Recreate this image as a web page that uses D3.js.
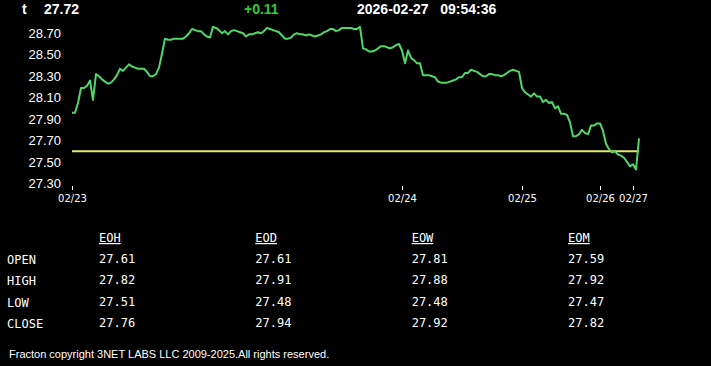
<!DOCTYPE html>
<html><head><meta charset="utf-8">
<script src="https://cdn.jsdelivr.net/npm/d3@7"></script>
<style>
html,body{margin:0;padding:0;background:#000;}
svg{display:block;}
</style></head>
<body>
<svg id="c" width="711" height="366"></svg>
<script>
// ---------- data ----------
const ticker = "t";
const lastPrice = "27.72";
const change = "+0.11";
const dateText = "2026-02-27";
const timeText = "09:54:36";
const openLevel = 27.60;

const prices = [
27.96,27.96,28.05,28.19,28.19,28.21,28.26,28.08,28.32,28.30,
28.27,28.25,28.23,28.24,28.27,28.31,28.37,28.35,28.38,28.41,
28.39,28.38,28.37,28.37,28.37,28.34,28.30,28.30,28.32,28.38,
28.51,28.65,28.64,28.64,28.65,28.65,28.65,28.65,28.67,28.70,
28.74,28.73,28.72,28.72,28.69,28.67,28.66,28.76,28.75,28.73,
28.70,28.72,28.69,28.72,28.73,28.72,28.71,28.70,28.67,28.69,
28.69,28.70,28.71,28.70,28.72,28.75,28.74,28.73,28.72,28.71,
28.68,28.65,28.65,28.66,28.69,28.70,28.69,28.69,28.68,28.69,
28.68,28.67,28.68,28.69,28.71,28.72,28.74,28.74,28.72,28.73,
28.75,28.75,28.75,28.75,28.74,28.74,28.76,28.56,28.55,28.53,
28.53,28.54,28.56,28.58,28.58,28.57,28.56,28.57,28.59,28.60,
28.54,28.42,28.54,28.47,28.45,28.42,28.42,28.31,28.31,28.31,
28.30,28.29,28.25,28.24,28.24,28.24,28.25,28.26,28.27,28.29,
28.29,28.33,28.33,28.36,28.35,28.34,28.32,28.30,28.30,28.32,
28.32,28.31,28.31,28.30,28.31,28.33,28.35,28.36,28.35,28.34,
28.19,28.15,28.13,28.11,28.14,28.11,28.11,28.06,28.08,28.05,
28.06,28.00,28.02,27.95,27.95,27.94,27.87,27.74,27.74,27.76,
27.80,27.77,27.76,27.84,27.84,27.86,27.86,27.79,27.67,27.62,
27.59,27.60,27.57,27.56,27.54,27.50,27.46,27.48,27.43,27.72
];

const yTicks = [27.30,27.50,27.70,27.90,28.10,28.30,28.50,28.70];
const dayLabels = ["02/23","02/24","02/25","02/26","02/27"];
const dayStartIndex = [0,110,150,176,187];

const tableCols = ["EOH","EOD","EOW","EOM"];
const rowLabels = ["OPEN","HIGH","LOW","CLOSE"];
const eohValues = ["27.61","27.82","27.51","27.76"];
const eodValues = ["27.61","27.91","27.48","27.94"];
const eowValues = ["27.81","27.88","27.48","27.92"];
const eomValues = ["27.59","27.92","27.47","27.82"];
const footerText = "Fracton copyright 3NET LABS LLC 2009-2025.All rights reserved.";

// ---------- drawing ----------
const svg = d3.select("#c");
svg.append("rect").attr("width",711).attr("height",366).attr("fill","#000");

const x = d3.scaleLinear().domain([0, prices.length-1]).range([72, 639]);
const y = d3.scaleLinear().domain([27.30, 28.70]).range([183.5, 33.3]);

// header
const hdr = svg.append("g").attr("font-family","Arial, 'Liberation Sans', sans-serif")
  .attr("font-weight","bold").attr("font-size",14);
hdr.append("text").attr("x",22).attr("y",14).attr("fill","#fff").text(ticker);
hdr.append("text").attr("x",44).attr("y",14).attr("fill","#fff").text(lastPrice);
hdr.append("text").attr("x",244).attr("y",14).attr("fill","#33cc33").text(change);
hdr.append("text").attr("x",357).attr("y",14).attr("fill","#fff").attr("xml:space","preserve")
  .text(dateText + "   " + timeText);

// y axis
const yAxis = d3.axisLeft(y).tickValues(yTicks).tickFormat(d3.format(".2f")).tickSize(0).tickPadding(0);
const gy = svg.append("g").attr("transform","translate(61,0)").call(yAxis);
gy.select(".domain").remove();
gy.selectAll("text").attr("fill","#fff").attr("font-size",13)
  .attr("font-family","Arial, 'Liberation Sans', sans-serif");

// x axis
const xAxis = d3.axisBottom(x).tickValues(dayStartIndex)
  .tickFormat((d,i)=>dayLabels[i]).tickSize(4).tickPadding(5);
const gx = svg.append("g").attr("transform","translate(0,186)").call(xAxis);
gx.select(".domain").remove();
gx.selectAll("line").attr("stroke","#fff");
gx.selectAll("text").attr("fill","#fff").attr("font-size",10)
  .attr("font-family","Tahoma, 'DejaVu Sans', Arial, sans-serif");

// open level line
svg.append("line")
  .attr("x1", x(0)).attr("x2", x(prices.length-1))
  .attr("y1", y(openLevel)).attr("y2", y(openLevel))
  .attr("stroke","#e2e86c").attr("stroke-width",2);

// price line
const line = d3.line().x((d,i)=>x(i)).y(d=>y(d));
svg.append("path").datum(prices).attr("d",line)
  .attr("fill","none").attr("stroke","#4fd768").attr("stroke-width",2)
  .attr("stroke-linejoin","round");

// table
const colX = d3.scalePoint().domain(tableCols).range([99, 568]);
const rowY = d3.scalePoint().domain(rowLabels).range([264, 328]);
const tbl = svg.append("g").attr("font-family","Consolas, 'DejaVu Sans Mono', 'Liberation Mono', monospace")
  .attr("font-size",12).attr("fill","#fff");
tbl.selectAll("text.h").data(tableCols).enter().append("text")
  .attr("x",d=>colX(d)).attr("y",242).attr("text-decoration","underline").text(d=>d);
tbl.selectAll("text.r").data(rowLabels).enter().append("text")
  .attr("x",7).attr("y",d=>rowY(d)).text(d=>d);
const colVals = [eohValues,eodValues,eowValues,eomValues];
colVals.forEach((vals,ci)=>{
  tbl.selectAll(null).data(vals).enter().append("text")
    .attr("x",colX(tableCols[ci])).attr("y",(d,ri)=>rowY(rowLabels[ri])-1).text(d=>d);
});

// footer
svg.append("text").attr("x",9).attr("y",358).attr("fill","#fff")
  .attr("font-family","Arial, 'Liberation Sans', sans-serif").attr("font-size",11)
  .text(footerText);
</script>
</body></html>
